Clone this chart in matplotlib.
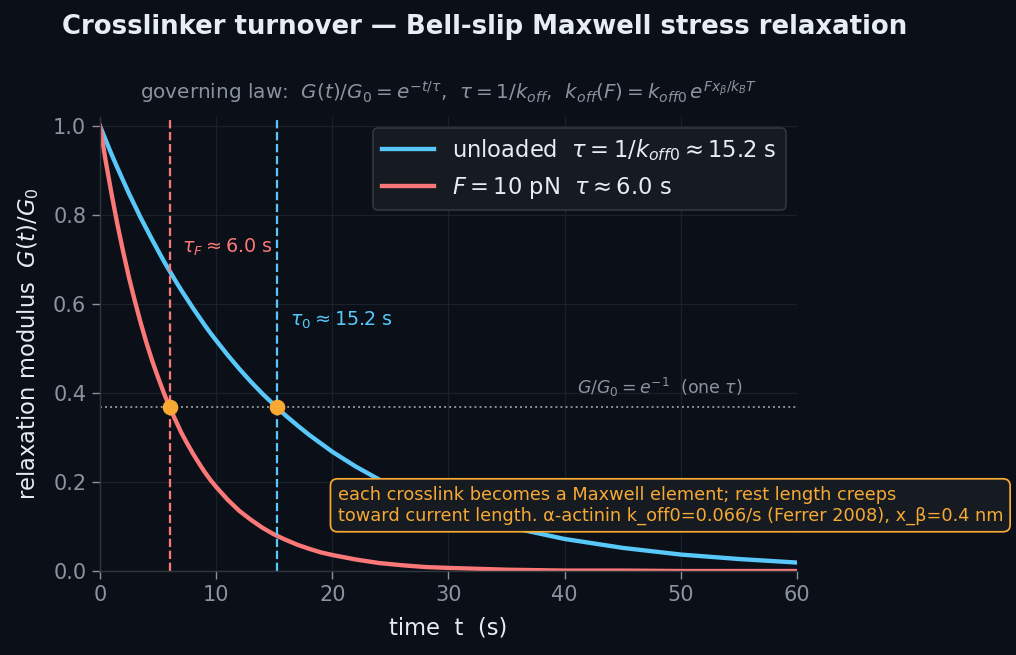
import numpy as np
import matplotlib.pyplot as plt

# tiempos de muestreo (s) y valores
t = [0, 0.5, 1, 1.5, 2, 2.5, 3, 3.5, 4, 4.5, 5, 5.5, 6, 6.5, 7, 7.5, 8, 8.5, 9, 9.5,
     10, 11, 12, 13, 14, 15, 16, 17, 18, 19, 20,
     22, 24, 26, 28, 30, 35, 40, 45, 50, 55, 60]
g_unloaded = [1.000, 0.968, 0.936, 0.906, 0.877, 0.848, 0.821, 0.794, 0.769, 0.744,
              0.720, 0.696, 0.674, 0.652, 0.631, 0.611, 0.591, 0.572, 0.553, 0.535,
              0.518, 0.485, 0.454, 0.425, 0.398, 0.373, 0.349, 0.327, 0.306, 0.287,
              0.268, 0.235, 0.206, 0.181, 0.159, 0.139, 0.100, 0.072, 0.052, 0.037,
              0.027, 0.019]
g_loaded = [1.000, 0.920, 0.847, 0.779, 0.717, 0.659, 0.607, 0.558, 0.513, 0.472,
            0.435, 0.400, 0.368, 0.339, 0.311, 0.287, 0.264, 0.243, 0.223, 0.205,
            0.189, 0.160, 0.135, 0.115, 0.097, 0.082, 0.070, 0.059, 0.050, 0.042,
            0.036, 0.026, 0.018, 0.013, 0.009, 0.007, 0.003, 0.001, 0.001, 0.000,
            0.000, 0.000]
tau0 = 15.2
tauF = 6.0
one_tau = 0.368

BG = '#0b0f17'
BLUE = '#58c8fa'
RED = '#fa7878'
ORANGE = '#f7a934'
GRAY = '#8b949e'
LIGHT = '#e6edf3'

fig = plt.figure(figsize=(8.136, 5.24), dpi=125, facecolor=BG)
ax = fig.add_axes([0.0983, 0.1282, 0.6854, 0.6931], facecolor=BG)

ax.plot(t, g_unloaded, color=BLUE, lw=2.5,
        label=r'unloaded  $\tau = 1/k_{off0} \approx 15.2$ s')
ax.plot(t, g_loaded, color=RED, lw=2.5,
        label=r'$F = 10$ pN  $\tau \approx 6.0$ s')

ax.axvline(tauF, color=RED, ls='--', lw=1.3)
ax.axvline(tau0, color=BLUE, ls='--', lw=1.3)
ax.axhline(one_tau, color=GRAY, ls=':', lw=1.1)
ax.plot([tauF, tau0], [one_tau, one_tau], 'o', color=ORANGE, ms=8, zorder=5)

ax.text(7.1, 0.728, r'$\tau_F \approx 6.0$ s', color=RED, fontsize=11, va='center')
ax.text(16.4, 0.564, r'$\tau_0 \approx 15.2$ s', color=BLUE, fontsize=11, va='center')
ax.text(41.1, 0.386, r'$G/G_0 = e^{-1}$  (one $\tau$)', color=GRAY, fontsize=10, va='bottom')

ax.text(20.45, 0.148,
        'each crosslink becomes a Maxwell element; rest length creeps\n'
        'toward current length. α-actinin k_off0=0.066/s (Ferrer 2008), x_β=0.4 nm',
        color=ORANGE, fontsize=10.2, va='center', clip_on=False,
        bbox=dict(boxstyle='round,pad=0.4', facecolor='#161b22', edgecolor=ORANGE, lw=1.0))

ax.set_xlim(0, 60)
ax.set_ylim(0, 1.02)
ax.grid(True, color='#1a212b', lw=0.8)
for s in ['top', 'right']:
    ax.spines[s].set_visible(False)
for s in ['left', 'bottom']:
    ax.spines[s].set_color('#30363d')
ax.tick_params(colors=GRAY, labelsize=12, length=4.4)

ax.set_xlabel('time  t  (s)', color=LIGHT, fontsize=13, labelpad=7)
ax.set_ylabel(r'relaxation modulus  $G(t)/G_0$', color=LIGHT, fontsize=13, labelpad=7)
ax.set_title(r'governing law:  $G(t)/G_0 = e^{-t/\tau}$,  $\tau = 1/k_{off}$,  '
             r'$k_{off}(F) = k_{off0}\,e^{F x_\beta / k_B T}$',
             color=GRAY, fontsize=11.5, pad=10)

leg = ax.legend(loc='upper right', fontsize=13, facecolor='#161b22', edgecolor='#30363d',
                labelcolor=LIGHT, framealpha=1, handlelength=2.3)

fig.text(0.477, 0.959, 'Crosslinker turnover — Bell-slip Maxwell stress relaxation',
         color=LIGHT, fontsize=15, fontweight='bold', ha='center', va='center')

fig.savefig('out.png', dpi=125, facecolor=BG)
